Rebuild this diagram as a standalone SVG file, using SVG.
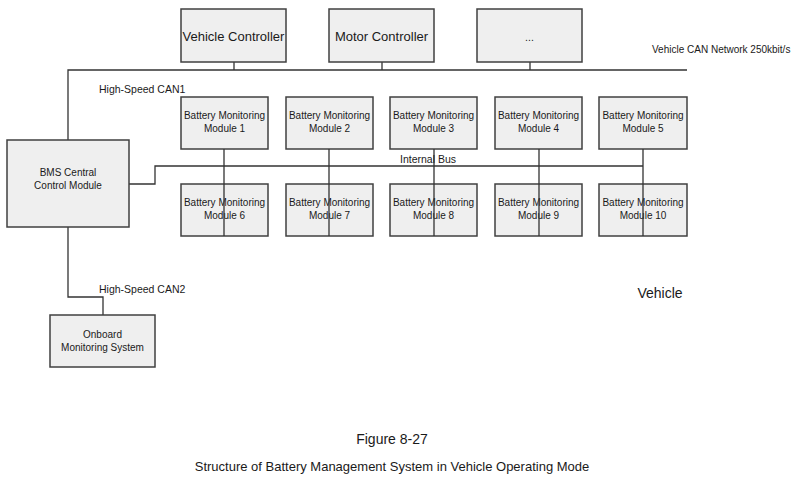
<svg xmlns="http://www.w3.org/2000/svg" width="800" height="480" viewBox="0 0 800 480">
<style>
rect{fill:#efefef;stroke:#404040;stroke-width:1.5}
text{font-family:"Liberation Sans",Arial,sans-serif;fill:#1a1a1a;text-anchor:middle}
.s{font-size:10px}
.l{font-size:13px}
.m{font-size:10.5px}
.c path{fill:none;stroke:#333;stroke-width:1.3}
</style>
<rect x="0" y="0" width="800" height="480" style="fill:#fff;stroke:none"/>
<g class="c">
<path d="M68 140V70H687M234 62V70M382 62V70M530 62V70"/>
<path d="M129 184H155V166H643"/>
<path d="M68 227V297H103V315"/>
</g>
<g id="vc"><rect x="181" y="9" width="105" height="53"/><text class="l" x="233.5" y="41">Vehicle Controller</text></g>
<g id="mc"><rect x="329" y="9" width="105" height="53"/><text class="l" x="381.5" y="41">Motor Controller</text></g>
<g id="etc"><rect x="477" y="9" width="105" height="53"/><text class="m" x="529.5" y="41">...</text></g>
<text class="m" x="652" y="53" style="text-anchor:start;font-size:10px">Vehicle CAN Network 250kbit/s</text>
<text class="m" x="99" y="93" style="text-anchor:start">High-Speed CAN1</text>
<g id="m1"><rect x="181" y="97" width="87" height="52"/><text class="s" x="224.5" y="119">Battery Monitoring</text><text class="s" x="224.5" y="132">Module 1</text></g>
<g id="m2"><rect x="286" y="97" width="87" height="52"/><text class="s" x="329.5" y="119">Battery Monitoring</text><text class="s" x="329.5" y="132">Module 2</text></g>
<g id="m3"><rect x="390" y="97" width="87" height="52"/><text class="s" x="433.5" y="119">Battery Monitoring</text><text class="s" x="433.5" y="132">Module 3</text></g>
<g id="m4"><rect x="495" y="97" width="87" height="52"/><text class="s" x="538.5" y="119">Battery Monitoring</text><text class="s" x="538.5" y="132">Module 4</text></g>
<g id="m5"><rect x="599" y="97" width="88" height="52"/><text class="s" x="643" y="119">Battery Monitoring</text><text class="s" x="643" y="132">Module 5</text></g>
<g id="m6"><rect x="181" y="184" width="87" height="52"/><text class="s" x="224.5" y="206">Battery Monitoring</text><text class="s" x="224.5" y="219">Module 6</text></g>
<g id="m7"><rect x="286" y="184" width="87" height="52"/><text class="s" x="329.5" y="206">Battery Monitoring</text><text class="s" x="329.5" y="219">Module 7</text></g>
<g id="m8"><rect x="390" y="184" width="87" height="52"/><text class="s" x="433.5" y="206">Battery Monitoring</text><text class="s" x="433.5" y="219">Module 8</text></g>
<g id="m9"><rect x="495" y="184" width="87" height="52"/><text class="s" x="538.5" y="206">Battery Monitoring</text><text class="s" x="538.5" y="219">Module 9</text></g>
<g id="m10"><rect x="599" y="184" width="88" height="52"/><text class="s" x="643" y="206">Battery Monitoring</text><text class="s" x="643" y="219">Module 10</text></g>
<g class="c"><path d="M224 149V236M329 149V236M434 149V236M539 149V236M643 149V236"/></g>
<text class="m" x="428" y="163">Internal Bus</text>
<g id="bms"><rect x="7" y="140" width="122" height="87"/><text class="s" x="68" y="176">BMS Central</text><text class="s" x="68" y="189">Control Module</text></g>
<text class="m" x="99" y="293" style="text-anchor:start">High-Speed CAN2</text>
<g id="obm"><rect x="50" y="315" width="105" height="52"/><text class="s" x="102.5" y="338">Onboard</text><text class="s" x="102.5" y="351">Monitoring System</text></g>
<text x="660" y="298" style="font-size:14px">Vehicle</text>
<text x="392" y="444" style="font-size:14px">Figure 8-27</text>
<text x="392" y="471" style="font-size:13px">Structure of Battery Management System in Vehicle Operating Mode</text>
</svg>
